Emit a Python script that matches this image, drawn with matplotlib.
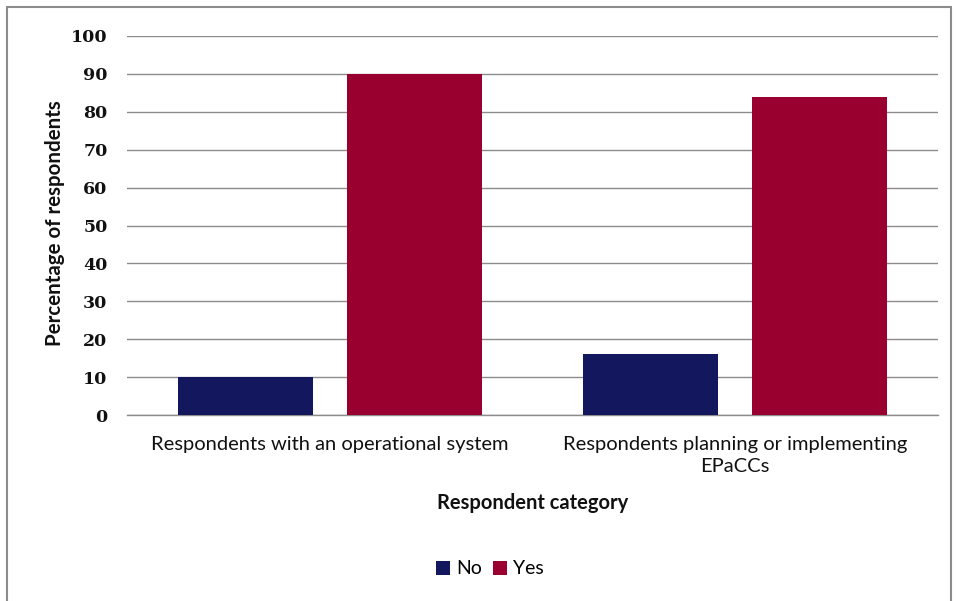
import matplotlib
matplotlib.use("Agg")
import matplotlib.pyplot as plt
from matplotlib.patches import Rectangle
import numpy as np

categories = ["Respondents with an operational system",
              "Respondents planning or implementing\nEPaCCs"]
series_names = ["No", "Yes"]
no_values = [10, 16]
yes_values = [90, 84]
yticks = [0, 10, 20, 30, 40, 50, 60, 70, 80, 90, 100]

colors = {"No": "#12175E", "Yes": "#990030"}

fig = plt.figure(figsize=(9.56, 6.01), dpi=100)
fig.patch.set_facecolor("white")
# outer border
fig.add_artist(Rectangle((7/956, -0.01), (951-7)/956, 1 - 7/601 + 0.01,
                         transform=fig.transFigure, fill=False,
                         edgecolor="#8c8c8c", linewidth=1.5))

ax = fig.add_axes([127/956, 1-415/601, (938-127)/956, (415-36)/601])
x = np.arange(len(categories))
w = 0.333
off = 0.208
ax.bar(x - off, no_values, w, color=colors["No"], label="No", zorder=3)
ax.bar(x + off, yes_values, w, color=colors["Yes"], label="Yes", zorder=3)

ax.set_xlim(-0.5, 1.5)
ax.set_ylim(0, 100)
ax.set_yticks(yticks)
ax.yaxis.grid(True, color="#8c8c8c", linewidth=1.0, zorder=0)
ax.set_axisbelow(True)
for s in ["top", "right", "left"]:
    ax.spines[s].set_visible(False)
ax.spines["bottom"].set_color("#8c8c8c")
ax.spines["bottom"].set_linewidth(1.0)
ax.tick_params(axis="both", length=0)
ax.tick_params(axis="y", pad=14)
ax.tick_params(axis="x", pad=15)
ax.set_yticklabels([str(t) for t in yticks], family="DejaVu Serif",
                   fontweight="bold", fontsize=12.5, color="#111111")
ax.set_xticks(x)
ax.set_xticklabels(categories, family="Lato", fontsize=14.5, color="#111111",
                   linespacing=1.35)

fig.text(55/956, 1-223/601, "Percentage of respondents", rotation=90,
         ha="center", va="center", family="Lato", fontweight="bold",
         fontsize=14.8, color="#111111")
fig.text(533/956, 1-503/601, "Respondent category", ha="center", va="center",
         family="Lato", fontweight="bold", fontsize=14.5, color="#111111")

handles, labels = ax.get_legend_handles_labels()
leg = fig.legend(handles, labels, loc="center", bbox_to_anchor=(490/956, 1-569/601),
                 ncol=2, frameon=False, prop={"family": "Lato", "size": 14},
                 handlelength=0.7, handleheight=0.7, handletextpad=0.3,
                 columnspacing=0.6)

fig.savefig("out.png", dpi=100)
